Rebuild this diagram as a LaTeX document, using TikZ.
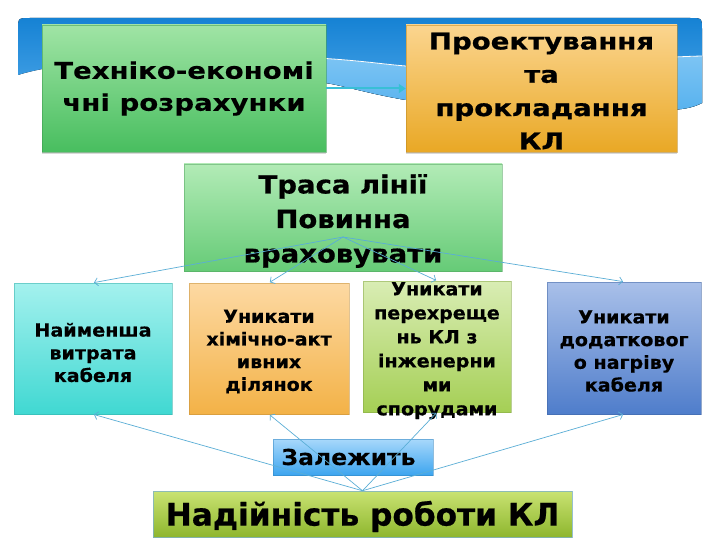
\documentclass[tikz,border=0pt]{standalone}
\usepackage{fontspec}
\setmainfont{DejaVu Sans}
\newfontfamily\fstTop[FakeStretch=1.2,FakeBold=0.8]{DejaVu Sans}
\newfontfamily\fstMid[FakeStretch=1.1,FakeBold=0.7]{DejaVu Sans}
\newfontfamily\fstSmall[FakeStretch=1.06,FakeBold=0.5]{DejaVu Sans}
\newfontfamily\fstDep[FakeStretch=1.07,FakeBold=0.5]{DejaVu Sans}
\newfontfamily\fstRel[FakeBold=0.6]{DejaVu Sans}
\usetikzlibrary{arrows.meta}
\definecolor{bandtop}{HTML}{1682D4}
\definecolor{bandbot}{HTML}{4FA9EA}
\definecolor{bandlt}{HTML}{7CC4F4}
\definecolor{bandlb}{HTML}{58B2EE}
\definecolor{conn}{HTML}{5AAED6}
\definecolor{tealarr}{HTML}{38BFD6}
\definecolor{g1t}{HTML}{A0E4A5}\definecolor{g1b}{HTML}{48BE5F}
\definecolor{o1t}{HTML}{FBD58F}\definecolor{o1b}{HTML}{E9A825}
\definecolor{g2t}{HTML}{B2EBB6}\definecolor{g2b}{HTML}{66CB77}
\definecolor{cyt}{HTML}{A4F1EE}\definecolor{cyb}{HTML}{40D8D2}
\definecolor{o2t}{HTML}{FDD9A3}\definecolor{o2b}{HTML}{F3B247}
\definecolor{lgt}{HTML}{D9EDB4}\definecolor{lgb}{HTML}{A5CF55}
\definecolor{blt}{HTML}{A9C0E9}\definecolor{blb}{HTML}{4F7DCB}
\definecolor{skt}{HTML}{A8D8FB}\definecolor{skb}{HTML}{3DA5EF}
\definecolor{ygt}{HTML}{C9E372}\definecolor{ygb}{HTML}{8EB62E}
\definecolor{relborder}{HTML}{7FB2C8}
\tikzset{
  gbox/.style 2 args={rectangle, inner sep=0pt, top color=#1, bottom color=#2,
     draw=#2!80!black, draw opacity=0.5, line width=0.5pt, align=center},
  txt/.style={inner sep=0pt, align=center},
  conn/.style={draw=conn, line width=0.7pt, -{Straight Barb[length=3.5pt,width=8pt]}},
  bigtxt/.style={font=\fstTop\fontsize{23}{32}\selectfont\bfseries},
  midtxt/.style={font=\fstMid\fontsize{25}{34.5}\selectfont\bfseries},
  smalltxt/.style={font=\fstSmall\fontsize{18}{22.7}\selectfont\bfseries},
}
\begin{document}
\begin{tikzpicture}[x=1pt,y=-1pt]
\useasboundingbox (0,0) rectangle (720,540);
\fill[white] (0,0) rectangle (720,540);
% header band
\fill[top color=bandtop, bottom color=bandbot]
  (18,75) -- (18,30) .. controls (18,18) .. (30,18) -- (690,18)
  .. controls (702,18) .. (702,30) -- (702,103)
  .. controls (692,108) and (682,110) .. (662,110)
  .. controls (560,108) and (450,104) .. (406,100)
  .. controls (370,94) and (345,86) .. (326,83)
  .. controls (200,62) and (80,55) .. (18,75) -- cycle;
\fill[top color=bandlt, bottom color=bandlb]
  (300,57) .. controls (360,60) and (380,64) .. (406,66)
  .. controls (500,72) and (620,58) .. (702,56) -- (702,103)
  .. controls (692,108) and (682,110) .. (662,110)
  .. controls (560,108) and (450,104) .. (406,100)
  .. controls (370,94) and (345,86) .. (326,83)
  .. controls (315,81) and (305,80) .. (300,79) -- cycle;
\draw[white, line width=0.8pt]
  (300,57) .. controls (360,60) and (380,64) .. (406,66)
  .. controls (500,72) and (620,58) .. (702,56);
% top boxes
\fill[black!15] (42,152) rectangle (326,154);
\fill[black!15] (406,152) rectangle (677,154);
\node[gbox={g1t}{g1b}, minimum width=284pt, minimum height=127pt, bigtxt]
  (tech) at (184,88.5) {Техніко-економі\\чні розрахунки};
\node[gbox={o1t}{o1b}, minimum width=271pt, minimum height=127pt] (proj) at (541.5,88.5) {};
\node[txt, font=\fstTop\fontsize{23}{33.3}\selectfont\bfseries] (projtxt) at (541.5,91)
  {Проектування\\та\\прокладання\\КЛ};
\draw[tealarr, line width=2pt, -{Triangle[length=7pt,width=9pt]}] (tech.east) -- (proj.west);
% route box
\node[gbox={g2t}{g2b}, minimum width=318pt, minimum height=107pt] (route) at (343,217.5) {};
\node[txt, midtxt] (routetxt) at (343,221) {Траса лінії\\ Повинна\\враховувати};
\coordinate (rsrc) at (343,237);
% four boxes
\node[gbox={cyt}{cyb}, minimum width=158pt, minimum height=131pt] (a) at (93,348.5) {};
\node[txt, smalltxt] (atxt) at (93,352.5) {Найменша\\витрата\\кабеля};
\node[gbox={o2t}{o2b}, minimum width=160pt, minimum height=131pt] (b) at (269,348.5) {};
\node[txt, smalltxt] (btxt) at (269,351.5) {Уникати\\хімічно-акт\\ивних\\ділянок};
\node[gbox={lgt}{lgb}, minimum width=148pt, minimum height=131pt] (c) at (437,346.5) {};
\node[txt, anchor=north, font=\fstSmall\fontsize{18}{24}\selectfont\bfseries] (ctxt) at (437,282)
  {Уникати\\перехреще\\нь КЛ з\\інженерни\\ми\\спорудами};
\node[gbox={blt}{blb}, minimum width=154pt, minimum height=132pt] (d) at (624,348) {};
\node[txt, smalltxt] (dtxt) at (624,351) {Уникати\\додатковог\\о нагріву\\кабеля};
% depends box
\node[gbox={skt}{skb}, minimum width=160pt, minimum height=36pt,
  font=\fstDep\fontsize{22}{26}\selectfont\bfseries] (dep) at (353,457) {Залежить\hspace*{9pt}};
\node[gbox={ygt}{ygb}, minimum width=419pt, minimum height=46pt,
  draw=relborder, draw opacity=0.8] (rel) at (362.5,514) {};
\node[txt, font=\fstRel\fontsize{31.2}{36}\selectfont\bfseries] (reltxt) at (362.5,516.5) {Надійність роботи КЛ};
% connectors
\foreach \t in {a,b,c,d} {
  \draw[conn, shorten >=1pt] (rsrc) -- (\t.north);
  \draw[conn, shorten >=1pt] (rel.north) -- (\t.south);
}
\end{tikzpicture}
\end{document}
